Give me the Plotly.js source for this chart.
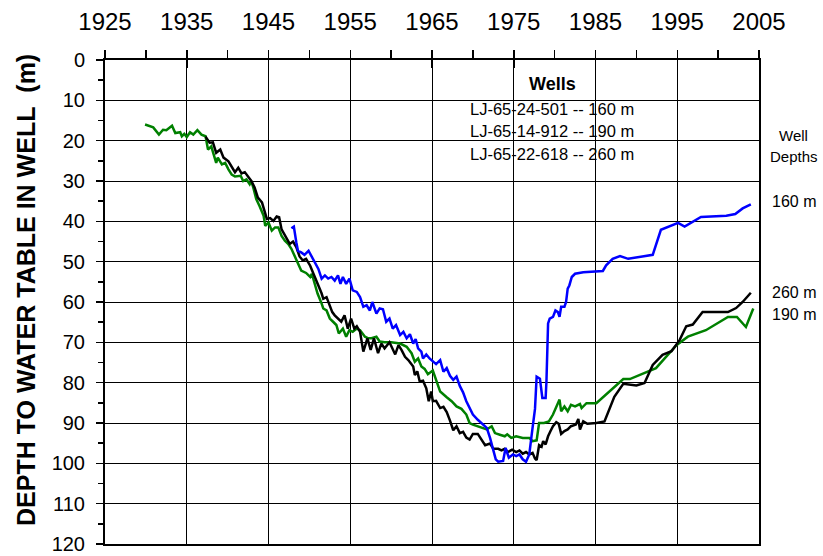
<!DOCTYPE html>
<html>
<head>
<meta charset="utf-8">
<script src="https://cdn.plot.ly/plotly-3.0.1.min.js"></script>
<style>html,body{margin:0;padding:0;background:#fff;}#chart{width:823px;height:556px;}</style>
</head>
<body>
<div id="chart"></div>
<script>
// Well LJ-65-24-501 (160 m) - blue
var years160 = [1947.8, 1948.1, 1948.4, 1948.6, 1949.0, 1949.4, 1949.9, 1950.3, 1950.7, 1951.1,
  1951.5, 1951.9, 1952.3, 1952.7, 1953.1, 1953.5, 1953.8, 1954.1, 1954.5, 1954.9,
  1955.3, 1955.8, 1956.2, 1956.6, 1957.0, 1957.4, 1957.7, 1958.2, 1958.6, 1959.0,
  1959.4, 1959.8, 1960.2, 1960.6, 1961.1, 1961.5, 1961.9, 1962.3, 1962.7, 1963.0,
  1963.3, 1963.7, 1963.9, 1964.3, 1964.7, 1965.1, 1965.5, 1966.0, 1966.4, 1966.8,
  1967.2, 1967.6, 1968.0, 1968.4, 1968.8, 1969.2, 1969.6, 1970.0, 1970.6, 1971.2,
  1971.7, 1972.1, 1972.5, 1972.8, 1973.1, 1973.7, 1974.0, 1974.4, 1974.9, 1975.3,
  1975.7, 1976.1, 1976.5, 1976.9, 1977.3, 1977.6, 1977.8, 1978.2, 1978.5, 1978.9,
  1979.0, 1979.2, 1979.4, 1979.8, 1980.1, 1980.4, 1980.6, 1980.8, 1981.2, 1981.4,
  1981.6, 1981.8, 1982.1, 1982.5, 1983.5, 1985.9, 1986.3, 1987.1, 1988.0, 1989.0,
  1992.0, 1993.0, 1995.1, 1995.9, 1997.9, 2001.0, 2002.1, 2003.0, 2004.0];
var depth160 = [41.7, 41.3, 45.2, 47.3, 47.7, 48.3, 47.3, 48.9, 50.1, 51.8,
  54.2, 53.4, 54.2, 53.8, 54.7, 53.4, 55.5, 53.8, 55.5, 54.2,
  57.1, 57.5, 58.8, 61.2, 60.8, 62.1, 60.0, 62.9, 61.6, 61.8,
  64.9, 64.1, 66.6, 65.7, 68.2, 67.4, 69.0, 68.0, 70.3, 69.2,
  71.5, 72.3, 74.0, 73.0, 74.0, 74.6, 75.4, 74.4, 77.3, 76.4,
  78.3, 79.3, 78.5, 80.8, 82.4, 84.6, 86.3, 87.9, 89.2, 90.2,
  91.2, 93.7, 97.0, 99.0, 99.6, 99.4, 96.2, 98.6, 97.8, 98.2,
  97.8, 99.0, 99.6, 97.8, 91.2, 86.5, 78.5, 79.0, 83.8, 83.8,
  79.7, 65.3, 64.1, 63.7, 62.1, 62.5, 63.7, 61.2, 61.2, 60.0,
  56.7, 55.9, 53.8, 53.0, 52.6, 52.3, 50.9, 49.3, 48.6, 49.3,
  48.3, 42.1, 40.4, 41.3, 38.9, 38.6, 38.2, 36.8, 35.8];

// Well LJ-65-14-912 (190 m) - green
var years190 = [1929.9, 1930.9, 1931.6, 1932.1, 1932.5, 1933.2, 1933.6, 1934.2, 1934.4, 1934.7,
  1935.0, 1935.4, 1935.8, 1936.3, 1936.8, 1937.3, 1937.6, 1938.0, 1938.6, 1938.8,
  1939.3, 1939.7, 1940.1, 1940.5, 1940.9, 1941.6, 1941.9, 1942.3, 1942.7, 1942.9,
  1943.2, 1943.5, 1943.9, 1944.4, 1944.6, 1945.0, 1945.4, 1945.8, 1946.2, 1946.6,
  1947.0, 1947.4, 1947.8, 1948.2, 1948.6, 1949.0, 1949.6, 1950.1, 1950.3, 1950.7,
  1951.0, 1951.5, 1951.7, 1952.1, 1952.5, 1952.9, 1953.3, 1953.6, 1954.1, 1954.5,
  1954.9, 1955.3, 1955.8, 1956.2, 1956.8, 1957.2, 1957.6, 1958.2, 1958.6, 1959.2,
  1960.0, 1961.1, 1961.9, 1962.5, 1962.9, 1963.3, 1963.7, 1964.1, 1964.5, 1965.1,
  1965.5, 1966.0, 1966.8, 1967.4, 1968.0, 1968.6, 1969.2, 1969.6, 1970.0, 1970.6,
  1971.2, 1971.7, 1972.3, 1972.7, 1973.3, 1973.9, 1974.2, 1974.7, 1975.3, 1976.1,
  1976.9, 1977.3, 1977.8, 1978.1, 1978.7, 1979.3, 1979.8, 1980.2, 1980.6, 1980.8,
  1981.2, 1981.6, 1982.0, 1982.5, 1983.1, 1983.3, 1983.9, 1985.1, 1987.1, 1988.4,
  1989.2, 1992.4, 1994.9, 1996.3, 1998.5, 2001.2, 2002.3, 2003.4, 2004.3];
var depth190 = [16.0, 16.7, 18.5, 17.3, 17.4, 16.3, 18.1, 17.9, 18.9, 18.3,
  19.1, 17.9, 18.5, 17.4, 18.5, 18.9, 22.2, 21.4, 25.5, 24.2,
  25.9, 25.5, 27.1, 28.4, 28.9, 28.7, 30.0, 29.6, 30.8, 30.0,
  32.1, 34.5, 36.2, 38.6, 41.1, 40.3, 42.3, 41.5, 41.5, 43.6,
  44.8, 45.6, 46.8, 48.5, 50.3, 52.2, 52.8, 53.8, 53.0, 55.9,
  57.9, 60.4, 61.6, 62.1, 64.1, 64.9, 65.7, 67.8, 66.6, 68.6,
  67.0, 67.4, 66.6, 67.0, 68.6, 69.0, 69.0, 68.6, 69.8, 70.0,
  70.0, 70.3, 71.1, 72.7, 74.8, 74.0, 76.0, 76.6, 77.9, 77.0,
  79.3, 82.2, 83.6, 84.6, 85.9, 86.5, 87.9, 90.0, 90.4, 90.8,
  91.2, 91.6, 90.8, 92.5, 92.9, 93.3, 92.8, 93.7, 93.3, 93.7,
  93.7, 94.5, 94.3, 90.0, 90.0, 89.6, 87.9, 85.9, 84.2, 87.1,
  85.9, 87.1, 85.5, 85.9, 85.3, 86.3, 85.1, 85.1, 81.4, 79.1,
  79.1, 76.4, 70.7, 68.6, 67.0, 63.7, 63.7, 66.2, 61.6];

// Well LJ-65-22-618 (260 m) - black
var years260 = [1937.3, 1937.8, 1938.2, 1938.6, 1939.1, 1939.5, 1940.1, 1940.5, 1940.9, 1941.3,
  1941.7, 1942.1, 1942.5, 1942.9, 1943.3, 1943.7, 1944.2, 1944.6, 1944.8, 1945.2,
  1945.6, 1946.0, 1946.3, 1946.6, 1947.0, 1947.6, 1948.0, 1948.4, 1948.8, 1949.2,
  1949.6, 1950.1, 1950.5, 1950.9, 1951.1, 1951.5, 1951.7, 1952.1, 1952.5, 1952.8,
  1953.1, 1953.5, 1953.9, 1954.3, 1954.7, 1955.1, 1955.5, 1955.8, 1956.2, 1956.6,
  1957.1, 1957.5, 1957.9, 1958.4, 1958.8, 1959.2, 1959.8, 1960.5, 1960.9, 1961.3,
  1961.7, 1962.1, 1962.7, 1962.9, 1963.2, 1963.5, 1963.9, 1964.3, 1964.6, 1964.9,
  1965.1, 1965.5, 1966.0, 1966.4, 1966.8, 1967.2, 1967.6, 1968.0, 1968.4, 1968.8,
  1969.2, 1969.6, 1970.0, 1970.6, 1971.0, 1971.5, 1972.1, 1972.5, 1973.1, 1973.5,
  1973.9, 1974.3, 1974.8, 1975.3, 1975.7, 1976.1, 1976.5, 1976.9, 1977.3, 1977.6,
  1977.8, 1978.1, 1978.4, 1978.6, 1978.9, 1979.2, 1979.5, 1979.8, 1980.2, 1980.5,
  1980.8, 1981.2, 1981.6, 1982.0, 1982.6, 1982.9, 1983.1, 1983.5, 1984.0, 1985.1,
  1986.1, 1987.3, 1988.4, 1990.0, 1991.0, 1992.0, 1993.2, 1994.3, 1995.3, 1996.1,
  1996.9, 1998.1, 2001.2, 2002.2, 2003.0, 2004.0];
var depth260 = [19.0, 20.5, 20.4, 23.0, 22.2, 24.2, 25.1, 26.3, 27.8, 26.7,
  28.1, 27.8, 28.9, 30.0, 31.6, 34.1, 35.3, 37.8, 39.4, 39.2,
  39.9, 38.8, 39.0, 42.0, 43.6, 45.6, 45.0, 46.4, 48.7, 49.7,
  49.3, 51.0, 53.0, 54.7, 55.9, 57.9, 59.2, 58.8, 60.8, 62.5,
  63.3, 64.1, 64.9, 63.3, 66.6, 64.1, 66.6, 66.0, 67.4, 72.3,
  69.0, 71.9, 69.0, 72.7, 70.3, 71.5, 70.0, 73.0, 70.7, 72.0,
  73.6, 74.4, 76.0, 78.1, 77.2, 79.7, 79.5, 81.4, 84.6, 82.2,
  84.6, 84.5, 86.3, 86.0, 87.3, 89.4, 91.8, 90.8, 92.5, 92.2,
  93.6, 94.1, 92.7, 92.7, 93.9, 95.5, 95.1, 96.4, 96.4, 96.8,
  96.4, 97.2, 96.6, 97.2, 96.8, 97.6, 97.2, 97.8, 97.4, 98.8,
  99.2, 95.5, 95.9, 94.5, 95.3, 93.3, 92.0, 90.8, 89.8, 90.2,
  92.7, 92.0, 91.6, 90.8, 90.4, 89.0, 91.6, 89.6, 90.2, 90.0,
  89.6, 83.5, 80.3, 80.7, 80.1, 75.6, 73.1, 72.2, 69.4, 66.0,
  65.6, 62.5, 62.5, 61.5, 60.0, 57.7];

var legendTitle = "Wells";
var wellNames = ["LJ-65-24-501 -- 160 m", "LJ-65-14-912 -- 190 m", "LJ-65-22-618 -- 260 m"];
var depthLabels = ["160 m", "260 m", "190 m"];
var yTitle = "DEPTH TO WATER TABLE IN WELL&nbsp; (m)";

var FONT = "Liberation Sans, Arial, sans-serif";
var PH = 556 - 60 - 12; // plot height in px

var traces = [
  {x: years190, y: depth190, type: "scatter", mode: "lines", line: {color: "#008000", width: 2.5}, showlegend: false, hoverinfo: "skip"},
  {x: years260, y: depth260, type: "scatter", mode: "lines", line: {color: "#000000", width: 2.5}, showlegend: false, hoverinfo: "skip"},
  {x: years160, y: depth160, type: "scatter", mode: "lines", line: {color: "#0000ff", width: 2.5}, showlegend: false, hoverinfo: "skip"},
  {x: [], y: [], xaxis: "x2", yaxis: "y", type: "scatter", mode: "lines", showlegend: false, hoverinfo: "skip"}
];

function ann(x, y, text, size, extra) {
  var a = {xref: "paper", yref: "paper", x: x, y: y, text: text, showarrow: false,
    xanchor: "center", yanchor: "middle", font: {family: FONT, size: size, color: "#000"}};
  if (extra) { for (var k in extra) a[k] = extra[k]; }
  return a;
}
function py(p) { return 1 - (p - 60) / PH; }

var annotations = [
  ann(0.6835, py(84), "<b>" + legendTitle + "</b>", 18),
  ann(0.6835, py(109.3), wellNames[0], 16.5),
  ann(0.6835, py(131), wellNames[1], 16.5),
  ann(0.6835, py(153.7), wellNames[2], 16.5),
  ann(1.053, py(135), "Well", 15),
  ann(1.053, py(156.7), "Depths", 15),
  ann(1.053, py(201.7), depthLabels[0], 16),
  ann(1.053, py(292.7), depthLabels[1], 16),
  ann(1.053, py(314), depthLabels[2], 16),
  ann((26 - 105)/654, py(290), "<b>" + yTitle + "</b>", 25, {textangle: -90})
];

var layout = {
  width: 823, height: 556,
  margin: {l: 105, r: 64, t: 60, b: 12, pad: 0},
  paper_bgcolor: "#fff", plot_bgcolor: "#fff",
  font: {family: FONT, color: "#000"},
  showlegend: false,
  xaxis: {
    range: [1925, 2005], side: "top", tick0: 1925, dtick: 10,
    ticks: "outside", ticklen: 8, tickwidth: 1.5, tickcolor: "#000",
    showgrid: true, gridcolor: "#000", gridwidth: 1,
    showline: true, linecolor: "#000", linewidth: 2, mirror: true,
    zeroline: false, fixedrange: true,
    tickfont: {family: FONT, size: 24, color: "#000"},
    ticklabelstandoff: 10, ticklabeloverflow: "allow",
    minor: {tick0: 1925, dtick: 5, ticks: "outside", ticklen: 8, tickwidth: 1.5, tickcolor: "#000", showgrid: false}
  },
  xaxis2: {
    overlaying: "x", matches: "x", side: "top", anchor: "y",
    tick0: 1925, dtick: 10, ticks: "inside", ticklen: 8, tickwidth: 1.5, tickcolor: "#000",
    showticklabels: false, showgrid: false, showline: false, zeroline: false
  },
  yaxis: {
    range: [120.001, 0], tick0: 0, dtick: 10,
    ticks: "outside", ticklen: 7, tickwidth: 1.5, tickcolor: "#000",
    showgrid: true, gridcolor: "#000", gridwidth: 1,
    showline: true, linecolor: "#000", linewidth: 2, mirror: true,
    zeroline: false, fixedrange: true,
    tickfont: {family: FONT, size: 20, color: "#000"},
    ticklabelstandoff: 7, ticklabeloverflow: "allow",
    minor: {tick0: 0, dtick: 5, ticks: "outside", ticklen: 5, tickwidth: 1.5, tickcolor: "#000", showgrid: false}
  },
  shapes: [
    {type: "rect", xref: "paper", yref: "paper", x0: (431.7-105)/654.3, x1: (672.7-105)/654.3, y0: py(169.3), y1: 1, fillcolor: "#fff", line: {width: 0}, layer: "between"}
  ],
  annotations: annotations
};

Plotly.newPlot("chart", traces, layout, {displayModeBar: false, staticPlot: true});
</script>
</body>
</html>
